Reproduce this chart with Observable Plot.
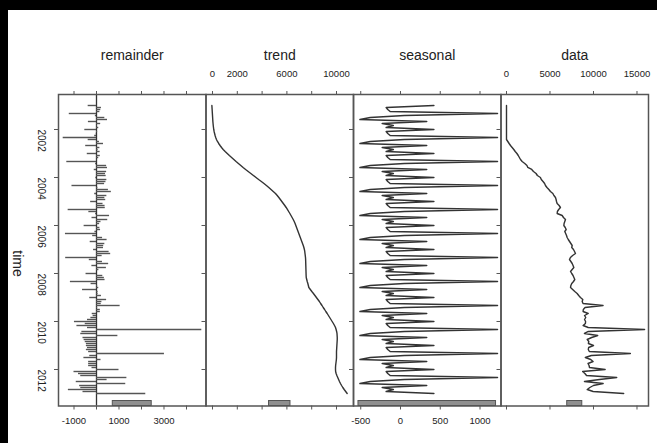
<!DOCTYPE html>
<html><head><meta charset="utf-8">
<script src="https://cdn.jsdelivr.net/npm/d3@7"></script>
<script src="https://cdn.jsdelivr.net/npm/@observablehq/plot@0.6"></script>
<style>
html,body{margin:0;padding:0;background:#fff;}
#chart{position:relative;width:657px;height:443px;overflow:hidden;background:#fff;font-family:"Liberation Sans",Arial,Helvetica,sans-serif;}
#chart svg{position:absolute;left:0;top:0;background:transparent;max-width:none;}
.edge-top{position:absolute;left:0;top:0;width:657px;height:10px;background:#000;}
.edge-left{position:absolute;left:0;top:0;width:8px;height:443px;background:#000;}
</style></head><body>
<div id="chart"><div class="edge-top"></div><div class="edge-left"></div></div>
<script>
// ---- data (monthly, starting January 2001) ----
const startYear = 2001;
const perYear = 12;
const data = [
  0,0,0,0,0,0,0,0,0,0,0,0,
  0,0,0,0,0,0,150,300,460,650,840,1000,
  1200,1350,1480,1610,1800,2100,2350,2450,2900,3100,3400,3550,
  3900,4000,4200,4380,4480,4650,4870,5050,5330,5450,5630,5700,
  5750,5820,6050,6200,6000,5850,5820,6400,6550,6780,6700,6620,
  6590,6750,6860,6700,6800,6900,6970,7100,7250,7400,7550,7500,
  7700,7820,7930,7600,7350,7240,7400,7550,7650,7740,7550,7360,
  7500,7650,7750,7850,7700,7500,7400,7360,7600,7850,8120,8300,
  8500,8770,8700,8800,11100,9030,8830,8800,9390,8970,9110,8970,
  9090,9070,8810,9390,15870,9410,8960,10490,9790,9280,9460,9410,
  10000,9440,9400,9520,14240,9750,9060,9680,9950,9370,9490,9540,
  11340,8750,9010,9200,12670,10690,8960,11110,9990,9580,9280,9960,
  13470
];
const trend = [
  -50,-40,-30,-20,-10,0,10,20,30,45,60,80,
  100,130,170,210,260,320,400,500,610,730,860,1020,
  1190,1360,1540,1720,1900,2090,2280,2470,2670,2880,3090,3300,
  3510,3720,3940,4150,4350,4540,4720,4900,5080,5220,5350,5470,
  5590,5710,5830,5940,6040,6140,6240,6330,6420,6510,6590,6660,
  6720,6780,6840,6900,6960,7020,7080,7140,7200,7260,7320,7370,
  7410,7440,7460,7480,7500,7510,7515,7520,7525,7530,7535,7540,
  7545,7550,7560,7600,7640,7690,7730,7770,7890,8010,8140,8260,
  8380,8500,8620,8720,8830,8930,9040,9140,9250,9350,9450,9550,
  9650,9750,9840,9920,9970,10010,10040,10050,10060,10060,10050,10040,
  10030,10020,10010,10000,10000,10000,10000,9990,9970,9950,9930,9920,
  9920,9930,9970,10030,10100,10170,10240,10320,10410,10510,10620,10740,
  10860
];
const seasonal = [
  420,-180,-160,-130,1220,50,-380,-510,330,-230,-90,-180,
  420,-180,-160,-130,1220,50,-380,-510,330,-230,-90,-180,
  420,-180,-160,-130,1220,50,-380,-510,330,-230,-90,-180,
  420,-180,-160,-130,1220,50,-380,-510,330,-230,-90,-180,
  420,-180,-160,-130,1220,50,-380,-510,330,-230,-90,-180,
  420,-180,-160,-130,1220,50,-380,-510,330,-230,-90,-180,
  420,-180,-160,-130,1220,50,-380,-510,330,-230,-90,-180,
  420,-180,-160,-130,1220,50,-380,-510,330,-230,-90,-180,
  420,-180,-160,-130,1220,50,-380,-510,330,-230,-90,-180,
  420,-180,-160,-130,1220,50,-380,-510,330,-230,-90,-180,
  420,-180,-160,-130,1220,50,-380,-510,330,-230,-90,-180,
  420,-180,-160,-130,1220,50,-380,-510,330,-230,-90,-180,
  420
];
const panelTitles = ["remainder", "trend", "seasonal", "data"];
const yearTicks = [2002, 2004, 2006, 2008, 2010, 2012];
const remainderTicks = [-1000, 0, 1000, 2000, 3000, 4000];
const remainderLabels = [-1000, 1000, 3000];
const trendTicks = [0, 2000, 4000, 6000, 8000, 10000];
const trendLabels = [0, 2000, 6000, 10000];
const seasonalTicks = [-500, 0, 500, 1000];
const dataTicks = [0, 5000, 10000, 15000];

// ---- layout ----
const W = 657, H = 443;
const edges = [58, 205.5, 353, 500.5, 648];
const frameTop = 94, frameBottom = 405.5;
const yDomain = [2000.542, 2013.521];
const xDomains = [[-1689, 4867], [-524, 11371], [-591, 1264], [-632, 16322]];
const ink = "#333", frameInk = "#555";
const font = "'Liberation Sans', Arial, Helvetica, sans-serif";

// rows for the library
const rows = data.map((v, i) => ({
  t: startYear + i / perYear,
  data: v,
  trend: trend[i],
  seasonal: seasonal[i],
  remainder: v - trend[i] - seasonal[i]
}));
const sExt = d3.extent(seasonal);
const barLen = sExt[1] - sExt[0];

function rangeBar(dom) {
  const c = (dom[0] + dom[1]) / 2;
  return Plot.rect([{a: c - barLen / 2, b: c + barLen / 2}], {
    x1: "a", x2: "b", insetTop: (frameBottom - frameTop) - 5,
    fill: "#8f8f8f", stroke: "#555", strokeWidth: 1
  });
}
const tickOpts = {tickSize: 4, fill: "none", stroke: frameInk, strokeWidth: 1, label: null};
function xTicks(arr) {
  return [
    Plot.axisX({...tickOpts, ticks: arr, anchor: "top"}),
    Plot.axisX({...tickOpts, ticks: arr, anchor: "bottom"})
  ];
}
function xLabels(arr, side) {
  return Plot.text(arr, {
    x: d => d, frameAnchor: side, dy: side === "top" ? -24 : 17.5,
    text: d => String(d), fontSize: 9.5, fill: "#222"
  });
}
function titleMark(t) {
  return Plot.text([t], {frameAnchor: "top", dy: -44, text: d => d, fontSize: 14, fill: "#222"});
}

function panel(i, marks) {
  return Plot.plot({
    width: W, height: H,
    marginTop: frameTop, marginBottom: H - frameBottom,
    marginLeft: edges[i], marginRight: W - edges[i + 1],
    x: {domain: xDomains[i], axis: null},
    y: {domain: yDomain, reverse: true, axis: null},
    style: {background: "transparent", fontFamily: font, overflow: "visible"},
    marks: [
      ...marks,
      rangeBar(xDomains[i]),
      Plot.axisY({...tickOpts, ticks: yearTicks, anchor: "left"}),
      Plot.frame({stroke: frameInk, strokeWidth: 1.5}),
      titleMark(panelTitles[i])
    ]
  });
}

const chart = document.getElementById("chart");

chart.appendChild(panel(0, [
  Plot.ruleX([0], {stroke: ink, strokeWidth: 1.3}),
  Plot.ruleY(rows, {y: "t", x1: 0, x2: "remainder", stroke: "#555", strokeWidth: 1.4}),
  ...xTicks(remainderTicks),
  xLabels(remainderLabels, "bottom"),
  Plot.text(yearTicks, {y: d => d, frameAnchor: "left", dx: -17, rotate: 90, text: d => String(d), fontSize: 10, fill: "#222"}),
  Plot.text(["time"], {frameAnchor: "left", dx: -41, rotate: 90, text: d => d, fontSize: 14, fill: "#222"})
]));

chart.appendChild(panel(1, [
  Plot.line(rows, {x: "trend", y: "t", stroke: ink, strokeWidth: 1.4}),
  ...xTicks(trendTicks),
  xLabels(trendLabels, "top")
]));

chart.appendChild(panel(2, [
  Plot.line(rows, {x: "seasonal", y: "t", stroke: ink, strokeWidth: 1.5}),
  ...xTicks(seasonalTicks),
  xLabels(seasonalTicks, "bottom")
]));

chart.appendChild(panel(3, [
  Plot.line(rows, {x: "data", y: "t", stroke: ink, strokeWidth: 1.4}),
  ...xTicks(dataTicks),
  xLabels(dataTicks, "top")
]));
</script>
</body></html>
